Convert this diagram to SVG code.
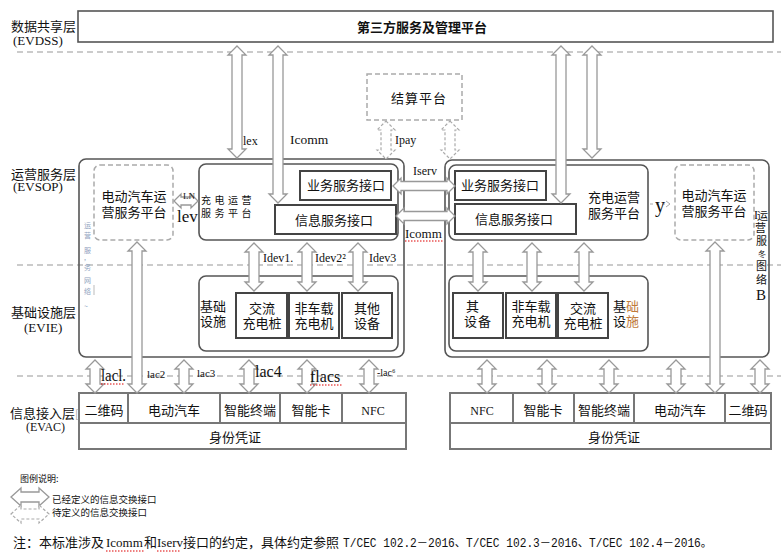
<svg xmlns="http://www.w3.org/2000/svg" width="781" height="555" viewBox="0 0 781 555">
<style>
.layer{fill:none;stroke:#bbb;stroke-width:1.5;stroke-dasharray:6,4}
.rb{fill:none;stroke:#555;stroke-width:1.6}
.db{fill:none;stroke:#aaa;stroke-width:1.5;stroke-dasharray:5,3}
.ib{fill:none;stroke:#444;stroke-width:2}
.cell{fill:none;stroke:#777;stroke-width:2}
.arr{fill:#fff;stroke:#999;stroke-width:1.3}
.darr{fill:#fff;stroke:#aaa;stroke-width:1.2;stroke-dasharray:3,2}
.ul{stroke:#d00;stroke-width:1;stroke-dasharray:1.5,1.5}
text{fill:#111}
.c{font-family:"Noto Sans CJK SC","Noto Sans",sans-serif}
.s{font-family:"Liberation Serif","Noto Sans CJK SC",serif}
.m{text-anchor:middle}
.v{font-family:"Noto Sans CJK SC",sans-serif;fill:#8fa3c0}
</style>
<rect width="781" height="555" fill="#fff"/>

<g id="layers">
<line class="layer" x1="17" y1="52" x2="781" y2="52"/>
<line class="layer" x1="17" y1="265" x2="781" y2="265"/>
<line class="layer" x1="17" y1="376" x2="781" y2="376"/>
<text class="c" x="11" y="31" font-size="13">数据共享层</text>
<text class="s" x="13" y="45" font-size="13" fill="#2a1a1a">(EVDSS)</text>
<text class="c" x="11" y="179" font-size="13">运营服务层</text>
<text class="s" x="13" y="191" font-size="13">(EVSOP)</text>
<text class="c" x="11" y="317" font-size="13">基础设施层</text>
<text class="s" x="24" y="332" font-size="13">(EVIE)</text>
<text class="c" x="10" y="418" font-size="13">信息接入层<tspan fill="#aaa" font-size="11">[</tspan></text>
<text class="s" x="26" y="431" font-size="12">(EVAC)</text>
</g>

<g id="platform3">
<rect class="rb" x="78" y="11" width="695" height="31"/>
<text class="c m" x="422" y="32" font-size="13" font-weight="bold">第三方服务及管理平台</text>
</g>

<g id="settle">
<rect class="db" x="367" y="74" width="95" height="46"/>
<text class="c m" x="419" y="103" font-size="13" letter-spacing="1">结算平台</text>
</g>

<g id="left-op">
<rect class="rb" x="79" y="159" width="325" height="198" rx="7"/>
<text class="v" x="84" y="228" font-size="7">运</text>
<text class="v" x="84" y="238" font-size="7">营</text>
<text class="v" x="84" y="253" font-size="7">服</text>
<text class="v" x="84" y="260" font-size="7">,</text>
<text class="v" x="84" y="270" font-size="7">务</text>
<text class="v" x="84" y="283" font-size="7">网</text>
<text class="v" x="84" y="294" font-size="7">络</text>
<text class="v" x="84" y="309" font-size="7">~</text>
<line x1="94" y1="285" x2="94" y2="295" stroke="#bbb"/>
</g>

<g id="left-ev">
<rect class="db" x="94" y="165" width="79" height="75" rx="6"/>
<text class="c m" x="134" y="201" font-size="13">电动汽车运</text>
<text class="c m" x="134" y="217" font-size="13">营服务平台</text>
</g>

<g id="left-charge">
<rect class="rb" x="199" y="164" width="199" height="76" rx="7"/>
<text class="c" x="201" y="204" font-size="10" letter-spacing="3.5">充电运营</text>
<text class="c" x="201" y="217" font-size="10" letter-spacing="3.5">服务平台</text>
<rect class="ib" x="300" y="171" width="91" height="29"/>
<text class="c m" x="346" y="190" font-size="13">业务服务接口</text>
<rect class="ib" x="275" y="205" width="121" height="29"/>
<text class="c m" x="334" y="225" font-size="13">信息服务接口</text>
</g>

<g id="left-infra">
<rect class="rb" x="199" y="276" width="199" height="75" rx="7"/>
<text class="c" x="200" y="311" font-size="13">基础</text>
<text class="c" x="200" y="326" font-size="13">设施</text>
<rect class="ib" x="236" y="293" width="51" height="45"/>
<text class="c m" x="262" y="313" font-size="13">交流</text>
<text class="c m" x="262" y="328" font-size="13">充电桩</text>
<rect class="ib" x="289" y="293" width="50" height="45"/>
<text class="c m" x="314" y="313" font-size="13">非车载</text>
<text class="c m" x="314" y="328" font-size="13">充电机</text>
<rect class="ib" x="342" y="293" width="50" height="45"/>
<text class="c m" x="367" y="313" font-size="13">其他</text>
<text class="c m" x="367" y="328" font-size="13">设备</text>
</g>

<g id="right-op">
<rect class="rb" x="445" y="160" width="324" height="197" rx="7"/>
<text class="s" x="754" y="219" font-size="12">I</text>
<text class="c" x="757" y="220" font-size="11">运</text>
<text class="c" x="755" y="232" font-size="11">营</text>
<text class="c" x="756" y="245" font-size="11">服</text>
<text class="c" x="758" y="257" font-size="8" fill="#3060c0">冬</text>
<text class="c" x="756" y="270" font-size="11">图</text>
<text class="c" x="756" y="284" font-size="11">络</text>
<text class="s" x="756" y="300" font-size="15" fill="#a8652e">B</text>
</g>

<g id="right-charge">
<rect class="rb" x="449" y="165" width="199" height="75" rx="7"/>
<rect class="ib" x="455" y="171" width="91" height="29"/>
<text class="c m" x="500" y="190" font-size="13">业务服务接口</text>
<rect class="ib" x="455" y="204" width="121" height="30"/>
<text class="c m" x="514" y="224" font-size="13">信息服务接口</text>
<text class="c m" x="614" y="202" font-size="13">充电运营</text>
<text class="c m" x="614" y="218" font-size="13">服务平台</text>
</g>

<g id="right-ev">
<rect class="db" x="675" y="165" width="79" height="75" rx="6"/>
<text class="c m" x="714" y="200" font-size="13">电动汽车运</text>
<text class="c m" x="714" y="216" font-size="13">营服务平台</text>
</g>

<g id="right-infra">
<rect class="rb" x="449" y="276" width="199" height="75" rx="7"/>
<rect class="ib" x="453" y="293" width="50" height="45"/>
<text class="c" x="466" y="311" font-size="13">其</text>
<text class="c m" x="478" y="326" font-size="13" letter-spacing="1">设备</text>
<rect class="ib" x="506" y="293" width="50" height="45"/>
<text class="c m" x="531" y="311" font-size="13">非车载</text>
<text class="c m" x="531" y="326" font-size="13">充电机</text>
<rect class="ib" x="558" y="293" width="50" height="45"/>
<text class="c m" x="583" y="313" font-size="13">交流</text>
<text class="c m" x="583" y="328" font-size="13">充电桩</text>
<text class="c" x="613" y="311" font-size="13">基<tspan fill="#c07a3a">础</tspan></text>
<text class="c" x="613" y="326" font-size="13">设<tspan fill="#c07a3a">施</tspan></text>
</g>

<g id="left-access">
<rect class="cell" x="79" y="393" width="327" height="56"/>
<line class="cell" x1="79" y1="423" x2="406" y2="423"/>
<line class="cell" x1="128" y1="393" x2="128" y2="423"/>
<line class="cell" x1="220" y1="393" x2="220" y2="423"/>
<line class="cell" x1="280" y1="393" x2="280" y2="423"/>
<line class="cell" x1="342" y1="393" x2="342" y2="423"/>
<text class="c m" x="104" y="415" font-size="13">二维码</text>
<text class="c m" x="174" y="415" font-size="13">电动汽车</text>
<text class="c m" x="250" y="415" font-size="13">智能终端</text>
<text class="c m" x="311" y="415" font-size="13">智能卡</text>
<text class="s m" x="373" y="415" font-size="12">NFC</text>
<text class="c m" x="235" y="442" font-size="13">身份凭证</text>
</g>

<g id="right-access">
<rect class="cell" x="450" y="393" width="321" height="56"/>
<line class="cell" x1="450" y1="423" x2="771" y2="423"/>
<line class="cell" x1="513" y1="393" x2="513" y2="423"/>
<line class="cell" x1="574" y1="393" x2="574" y2="423"/>
<line class="cell" x1="634" y1="393" x2="634" y2="423"/>
<line class="cell" x1="725" y1="393" x2="725" y2="423"/>
<text class="s m" x="482" y="415" font-size="12">NFC</text>
<text class="c m" x="543" y="415" font-size="13">智能卡</text>
<text class="c m" x="604" y="415" font-size="13">智能终端</text>
<text class="c m" x="680" y="415" font-size="13">电动汽车</text>
<text class="c m" x="748" y="415" font-size="13">二维码</text>
<text class="c m" x="614" y="442" font-size="13">身份凭证</text>
</g>

<g id="connectors">
<path class="arr" d="M237,46 l9,9 h-4 V149 h4 l-9,9 l-9,-9 h4 V55 h-4z"/>
<path class="arr" d="M278,46 l9,9 h-4 V194 h4 l-9,9 l-9,-9 h4 V55 h-4z"/>
<path class="arr" d="M561,46 l9,9 h-4 V194 h4 l-9,9 l-9,-9 h4 V55 h-4z"/>
<path class="arr" d="M592,46 l9,9 h-4 V149 h4 l-9,9 l-9,-9 h4 V55 h-4z"/>
<path class="darr" d="M386,121 l9,9 h-4 V150 h4 l-9,9 l-9,-9 h4 V130 h-4z"/>
<path class="darr" d="M450,121 l9,9 h-4 V150 h4 l-9,9 l-9,-9 h4 V130 h-4z"/>
<path class="arr" d="M254,243 l9,9 h-4 V282 h4 l-9,9 l-9,-9 h4 V252 h-4z"/>
<path class="arr" d="M307,243 l9,9 h-4 V282 h4 l-9,9 l-9,-9 h4 V252 h-4z"/>
<path class="arr" d="M358,243 l9,9 h-4 V282 h4 l-9,9 l-9,-9 h4 V252 h-4z"/>
<path class="arr" d="M478,243 l9,9 h-4 V282 h4 l-9,9 l-9,-9 h4 V252 h-4z"/>
<path class="arr" d="M532,243 l9,9 h-4 V282 h4 l-9,9 l-9,-9 h4 V252 h-4z"/>
<path class="arr" d="M584,243 l9,9 h-4 V282 h4 l-9,9 l-9,-9 h4 V252 h-4z"/>
<path class="arr" d="M137,242 l9,9 h-4 V384 h4 l-9,9 l-9,-9 h4 V251 h-4z"/>
<path class="arr" d="M715,242 l9,9 h-4 V384 h4 l-9,9 l-9,-9 h4 V251 h-4z"/>
<path class="arr" d="M95,360 l9,9 h-4 V384 h4 l-9,9 l-9,-9 h4 V369 h-4z"/>
<path class="arr" d="M184,360 l9,9 h-4 V384 h4 l-9,9 l-9,-9 h4 V369 h-4z"/>
<path class="arr" d="M249,360 l9,9 h-4 V384 h4 l-9,9 l-9,-9 h4 V369 h-4z"/>
<path class="arr" d="M307,360 l9,9 h-4 V384 h4 l-9,9 l-9,-9 h4 V369 h-4z"/>
<path class="arr" d="M369,360 l9,9 h-4 V384 h4 l-9,9 l-9,-9 h4 V369 h-4z"/>
<path class="arr" d="M487,360 l9,9 h-4 V384 h4 l-9,9 l-9,-9 h4 V369 h-4z"/>
<path class="arr" d="M547,360 l9,9 h-4 V384 h4 l-9,9 l-9,-9 h4 V369 h-4z"/>
<path class="arr" d="M609,360 l9,9 h-4 V384 h4 l-9,9 l-9,-9 h4 V369 h-4z"/>
<path class="arr" d="M676,360 l9,9 h-4 V384 h4 l-9,9 l-9,-9 h4 V369 h-4z"/>
<path class="arr" d="M760,360 l9,9 h-4 V384 h4 l-9,9 l-9,-9 h4 V369 h-4z"/>
<path class="arr" d="M393,186 l8,-8 v3.5 H447 v-3.5 l8,8 l-8,8 v-3.5 H401 v3.5z"/>
<path class="arr" d="M396,216 l8,-8 v3.5 H447 v-3.5 l8,8 l-8,8 v-3.5 H404 v3.5z"/>
<path class="arr" d="M174,201 l7,-7 v3 H191 v-3 l7,7 l-7,7 v-3 H181 v3z"/>
<line x1="650" y1="204" x2="667" y2="204" stroke="#aaa" stroke-dasharray="3,3"/>
<polyline points="666,201 670,204 666,207" fill="none" stroke="#aaa"/>

<text class="s" x="243" y="145" font-size="12">lex</text>
<text class="s" x="290" y="144" font-size="13.5">Icomm</text>
<text class="s" x="395" y="144" font-size="12">Ipay</text>
<text class="s" x="413" y="175" font-size="12">Iserv</text>
<text class="s" x="405" y="238" font-size="13">Icomm</text>
<line class="ul" x1="405" y1="241" x2="443" y2="241"/>
<text class="s" x="183" y="199" font-size="9">LN</text>
<text class="s" x="177" y="222" font-size="17">lev</text>
<text class="s" x="655" y="212" font-size="20">y</text>
<text class="s" x="263" y="262" font-size="12">Idev1.</text>
<text class="s" x="315" y="262" font-size="12">Idev2²</text>
<text class="s" x="369" y="262" font-size="12">Idev3</text>
<text class="s" x="101" y="381" font-size="16" textLength="25" lengthAdjust="spacingAndGlyphs">lacl.</text>
<line class="ul" x1="101" y1="384" x2="125" y2="384"/>
<text class="s" x="147" y="378" font-size="11">lac2</text>
<text class="s" x="197" y="377" font-size="11">lac3</text>
<text class="s" x="255" y="377" font-size="16">lac4</text>
<text class="s" x="310" y="382" font-size="16">flacs</text>
<line class="ul" x1="310" y1="385" x2="343" y2="385"/>
<text class="s" x="377" y="376" font-size="10">-lac⁶</text>
</g>

<g id="legend">
<text class="c" x="20" y="482" font-size="9">图例说明:</text>
<path class="arr" d="M11,497 l10,-9 v4 H39 v-4 l10,9 l-10,9 v-4 H21 v4z"/>
<path class="darr" d="M11,514 l10,-9 v4 H39 v-4 l10,9 l-10,9 v-4 H21 v4z"/>
<text class="c" x="52" y="503" font-size="9.5">已经定义的信息交换接口</text>
<text class="c" x="52" y="516" font-size="9.5">待定义的信息交换接口</text>
</g>

<g id="note">
<text class="c" y="547" font-size="13"><tspan x="13">注：本标准涉及</tspan><tspan class="s" x="106">Icomm</tspan><tspan x="144">和</tspan><tspan class="s" x="157">Iserv</tspan><tspan x="183">接口的约定，具体约定参照</tspan></text>
<text x="343" y="547" font-size="12" textLength="369" lengthAdjust="spacingAndGlyphs" style="font-family:'Liberation Mono','Noto Sans CJK SC',monospace">T/CEC 102.2－2016、T/CEC 102.3－2016、T/CEC 102.4－2016。</text>
<line class="ul" x1="106" y1="551" x2="145" y2="551"/>
<line class="ul" x1="157" y1="551" x2="181" y2="551"/>
</g>
</svg>
